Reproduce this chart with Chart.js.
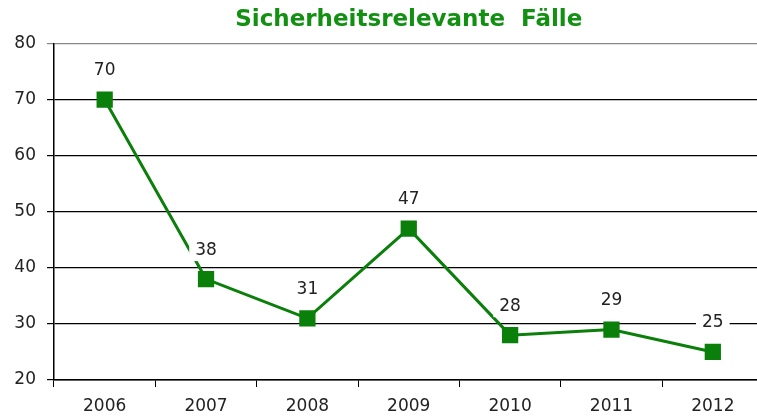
<!DOCTYPE html>
<html>
<head>
<meta charset="utf-8">
<script src="https://cdn.jsdelivr.net/npm/chart.js@4.4.0/dist/chart.umd.min.js"></script>
<style>
  html, body { margin: 0; padding: 0; background: #fff; overflow: hidden; }
  #wrap { width: 775px; height: 416px; }
</style>
</head>
<body>
<div id="wrap"><canvas id="chart" width="775" height="416"></canvas></div>
<script>
// Data
const years = ['2006', '2007', '2008', '2009', '2010', '2011', '2012'];
const cases = [70, 38, 31, 47, 28, 29, 25];
const yTicks = [20, 30, 40, 50, 60, 70, 80];

const green = '#0a7f0a';
const fontFamily = '"DejaVu Sans", Verdana, sans-serif';

// Value labels above each point, with a white box behind them
const valueLabels = {
    id: 'valueLabels',
    afterDatasetsDraw(chart) {
        const ctx = chart.ctx;
        const meta = chart.getDatasetMeta(0);
        ctx.save();
        ctx.font = '17px ' + fontFamily;
        ctx.textAlign = 'center';
        ctx.textBaseline = 'middle';
        meta.data.forEach((pt, i) => {
            const txt = String(cases[i]);
            const w = ctx.measureText(txt).width + 12;
            const y = pt.y - 29;
            ctx.fillStyle = '#fff';
            ctx.fillRect(pt.x - w / 2, y - 11, w, 22);
            ctx.fillStyle = '#222';
            ctx.fillText(txt, pt.x, y);
        });
        ctx.restore();
    }
};

new Chart(document.getElementById('chart'), {
    type: 'line',
    data: {
        labels: years,
        datasets: [{
            data: cases,
            borderColor: green,
            backgroundColor: green,
            borderWidth: 3,
            tension: 0,
            pointStyle: 'rect',
            pointRadius: 11.5,
            pointBackgroundColor: green,
            pointBorderWidth: 0
        }]
    },
    options: {
        responsive: false,
        animation: false,
        layout: { padding: { top: 0, right: 8, left: 0, bottom: 0 } },
        plugins: {
            legend: { display: false },
            tooltip: { enabled: false },
            title: {
                display: true,
                fullSize: false,
                text: 'Sicherheitsrelevante  Fälle',
                color: '#129012',
                font: { family: fontFamily, size: 23, weight: 'bold' },
                padding: { top: 6, bottom: 10 }
            }
        },
        scales: {
            x: {
                offset: true,
                grid: {
                    offset: true,
                    drawOnChartArea: false,
                    drawTicks: true,
                    tickLength: 7,
                    color: '#000'
                },
                border: { color: '#000', width: 1.5 },
                ticks: {
                    color: '#222',
                    padding: 9,
                    font: { family: fontFamily, size: 17 }
                },
                afterFit(scale) { scale.height = 36; }
            },
            y: {
                min: 20,
                max: 80,
                afterBuildTicks(scale) { scale.ticks = yTicks.map(v => ({ value: v })); },
                grid: {
                    color: ctx => ctx.tick && ctx.tick.value === 80 ? '#888' : '#000',
                    lineWidth: 1.2,
                    tickLength: 7
                },
                border: { color: '#000', width: 1.5 },
                ticks: {
                    color: '#222',
                    padding: 11,
                    font: { family: fontFamily, size: 17 }
                },
                afterFit(scale) { scale.width = 54; }
            }
        }
    },
    plugins: [valueLabels]
});
</script>
</body>
</html>
